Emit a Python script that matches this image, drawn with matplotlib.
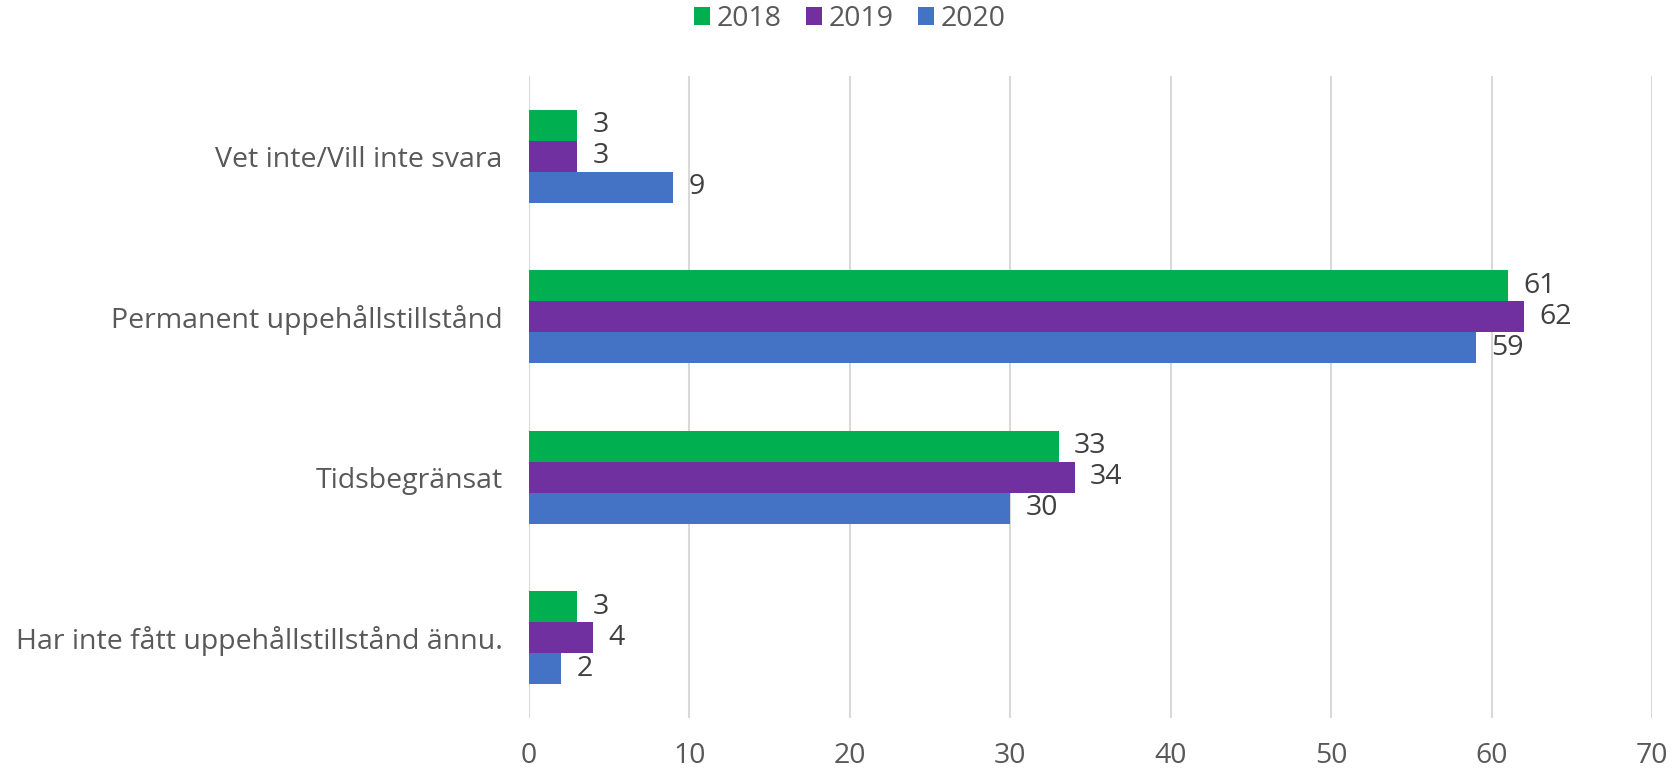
import matplotlib
matplotlib.use("Agg")
import matplotlib.pyplot as plt
import numpy as np

categories = ["Vet inte/Vill inte svara", "Permanent uppehållstillstånd", "Tidsbegränsat",
              "Har inte fått uppehållstillstånd ännu."]
series_names = ["2018", "2019", "2020"]
v2018 = [3, 61, 33, 3]
v2019 = [3, 62, 34, 4]
v2020 = [9, 59, 30, 2]
colors = ["#00B050", "#7030A0", "#4472C4"]
xticks = [0, 10, 20, 30, 40, 50, 60, 70]

plt.rcParams['font.family'] = ['Open Sans', 'DejaVu Sans']
FS = 20.5

fig = plt.figure(figsize=(16.77, 7.74), dpi=100)
ax = fig.add_axes([529/1677, 1-718/774, (1652.3-529)/1677, (718-76)/774])

n = len(categories)
y = np.arange(n)
h = 0.193
series = [v2018, v2019, v2020]
handles = []
for i, (vals, col, name) in enumerate(zip(series, colors, series_names)):
    pos = y + (i - 1) * h
    b = ax.barh(pos, vals, height=h, color=col, label=name, zorder=3)
    handles.append(b)
    for p, v in zip(pos, vals):
        ax.annotate(str(v), (v, p), xytext=(11, 0), textcoords="offset points",
                    va="center", ha="left", fontsize=FS, color="#404040")

ax.set_ylim(n - 0.5, -0.5)
ax.set_xlim(0, 70)
ax.set_xticks(xticks)
ax.set_xticklabels([str(t) for t in xticks], fontsize=FS, color="#595959")
ax.set_yticks(y)
ax.set_yticklabels(categories, fontsize=FS, color="#595959")
ax.tick_params(axis="both", length=0)
ax.tick_params(axis="y", pad=19)
ax.tick_params(axis="x", pad=17)
ax.xaxis.grid(True, color="#D9D9D9", linewidth=1.5, zorder=0)
for s in ax.spines.values():
    s.set_visible(False)

fig.legend(handles=handles, labels=series_names, loc="center", bbox_to_anchor=(850/1677, 1-19/774),
           ncol=3, frameon=False, fontsize=FS, handlelength=0.55, handleheight=0.55,
           handletextpad=0.25, columnspacing=0.85, labelcolor="#595959")

fig.savefig("out.png", dpi=100)
